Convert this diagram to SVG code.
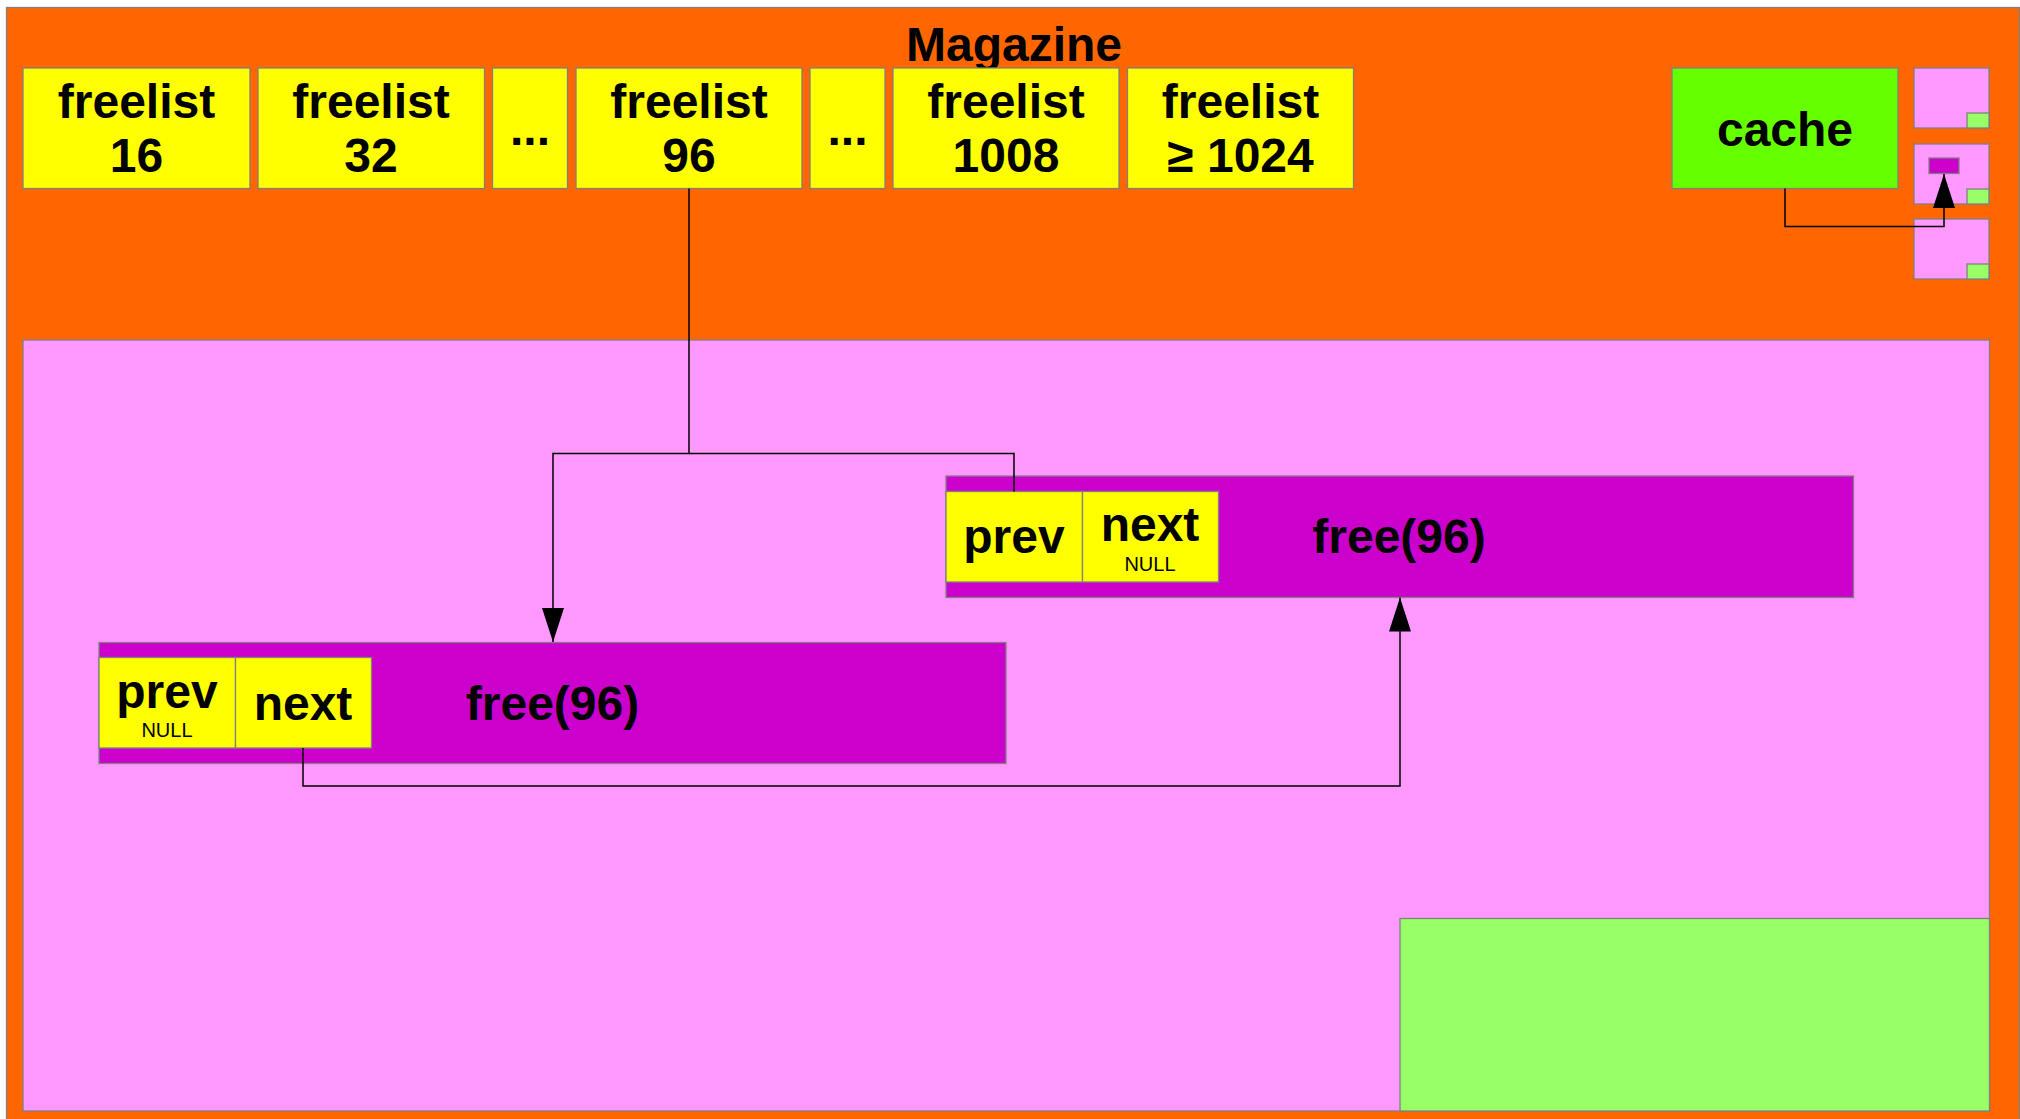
<svg xmlns="http://www.w3.org/2000/svg" width="2020" height="1119" viewBox="0 0 2020 1119">
<style>
.box{stroke:#808080;stroke-width:1.3}
.or{fill:#ff6600}
.ye{fill:#ffff00}
.pk{fill:#ff99ff}
.mg{fill:#cc00cc}
.cg{fill:#66ff00}
.lg{fill:#99ff66}
text{font-family:"Liberation Sans",Arial,sans-serif;font-weight:bold;fill:#000;text-anchor:middle}
.b{font-size:48px}
.s{font-size:20px;font-weight:normal}
.c{fill:none;stroke:#000;stroke-width:1.5}
</style>
<defs>
<marker id="ah" markerWidth="34" markerHeight="22" refX="34" refY="11" orient="auto" markerUnits="userSpaceOnUse" viewBox="0 0 34 22">
<path d="M0,0 L34,11 L0,22 Z" fill="#000"/>
</marker>
</defs>
<g id="magazine">
<rect class="box or" x="6.5" y="7.5" width="2013" height="1120"/>
<text class="b" x="1014" y="61">Magazine</text>
</g>
<g id="freelist16"><rect class="box ye" x="23" y="68" width="227" height="120.5"/><text class="b" x="136.5" y="118">freelist</text><text class="b" x="136.5" y="172">16</text></g>
<g id="freelist32"><rect class="box ye" x="258" y="68" width="226.5" height="120.5"/><text class="b" x="371" y="118">freelist</text><text class="b" x="371" y="172">32</text></g>
<g id="dots1"><rect class="box ye" x="492.5" y="68" width="75" height="120.5"/><text class="b" x="530" y="145">...</text></g>
<g id="freelist96"><rect class="box ye" x="576" y="68" width="226" height="120.5"/><text class="b" x="689" y="118">freelist</text><text class="b" x="689" y="172">96</text></g>
<g id="dots2"><rect class="box ye" x="810" y="68" width="75" height="120.5"/><text class="b" x="847.5" y="145">...</text></g>
<g id="freelist1008"><rect class="box ye" x="893" y="68" width="226" height="120.5"/><text class="b" x="1006" y="118">freelist</text><text class="b" x="1006" y="172">1008</text></g>
<g id="freelist1024"><rect class="box ye" x="1127.5" y="68" width="226" height="120.5"/><text class="b" x="1240.5" y="118">freelist</text><text class="b" x="1240.5" y="172">≥ 1024</text></g>
<g id="cache"><rect class="box cg" x="1672" y="68" width="226" height="120.5"/><text class="b" x="1785" y="146">cache</text></g>
<g id="slab1"><rect class="box pk" x="1914" y="68" width="75" height="60"/><rect class="box lg" x="1967" y="113" width="22" height="15"/></g>
<g id="slab2"><rect class="box pk" x="1914" y="144" width="75" height="60"/><rect class="box lg" x="1967" y="189" width="22" height="15"/><rect class="box mg" x="1929" y="158" width="30" height="15.5"/></g>
<g id="slab3"><rect class="box pk" x="1914" y="219" width="75" height="60"/><rect class="box lg" x="1967" y="264" width="22" height="15"/></g>
<g id="region"><rect class="box pk" x="23" y="340" width="1966.5" height="771"/></g>
<g id="top-area"><rect class="box lg" x="1400" y="918.5" width="589.5" height="192.5"/></g>
<g id="chunk-upper">
<rect class="box mg" x="946" y="476" width="907.5" height="121.5"/>
<rect class="box ye" x="946" y="491.5" width="136.5" height="90.5"/>
<rect class="box ye" x="1082.5" y="491.5" width="136" height="90.5"/>
<text class="b" x="1014" y="553">prev</text>
<text class="b" x="1150" y="541">next</text>
<text class="s" x="1150" y="571">NULL</text>
<text class="b" x="1399" y="553">free(96)</text>
</g>
<g id="chunk-lower">
<rect class="box mg" x="99" y="642.5" width="907" height="121"/>
<rect class="box ye" x="99" y="657.5" width="136.5" height="90.5"/>
<rect class="box ye" x="235.5" y="657.5" width="136" height="90.5"/>
<text class="b" x="167" y="708">prev</text>
<text class="s" x="167" y="737">NULL</text>
<text class="b" x="303" y="720">next</text>
<text class="b" x="552.5" y="720">free(96)</text>
</g>
<g id="connectors">
<polyline class="c" points="689,188.5 689,453.5 553,453.5 553,642" marker-end="url(#ah)"/>
<polyline class="c" points="689,453.5 1014,453.5 1014,491.5"/>
<polyline class="c" points="303,748 303,786 1400,786 1400,597.5" marker-end="url(#ah)"/>
<polyline class="c" points="1785,188.5 1785,226.5 1944,226.5 1944,174" marker-end="url(#ah)"/>
</g>
</svg>
